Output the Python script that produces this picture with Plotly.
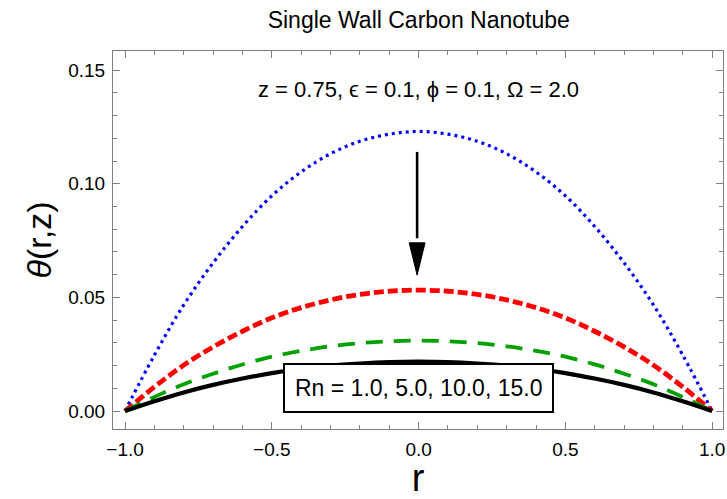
import plotly.graph_objects as go

# ---- data ----
r_vals = [-1.0, -0.9, -0.8, -0.7, -0.6, -0.5, -0.4, -0.3, -0.2, -0.1, 0.0,
          0.1, 0.2, 0.3, 0.4, 0.5, 0.6, 0.7, 0.8, 0.9, 1.0]
theta_rn1 = [0, 0.0246, 0.0467, 0.0652, 0.0812, 0.0947, 0.1052, 0.1132, 0.1187, 0.1218, 0.1230,
             0.1218, 0.1187, 0.1132, 0.1052, 0.0947, 0.0812, 0.0652, 0.0467, 0.0246, 0]
theta_rn5 = [0, 0.0106, 0.0202, 0.0282, 0.0351, 0.0410, 0.0455, 0.0489, 0.0513, 0.0527, 0.0532,
             0.0527, 0.0513, 0.0489, 0.0455, 0.0410, 0.0351, 0.0282, 0.0202, 0.0106, 0]
theta_rn10 = [0, 0.0062, 0.0118, 0.0164, 0.0205, 0.0239, 0.0265, 0.0285, 0.0299, 0.0307, 0.0310,
              0.0307, 0.0299, 0.0285, 0.0265, 0.0239, 0.0205, 0.0164, 0.0118, 0.0062, 0]
theta_rn15 = [0, 0.0043, 0.0082, 0.0115, 0.0143, 0.0167, 0.0186, 0.0200, 0.0209, 0.0215, 0.0217,
              0.0215, 0.0209, 0.0200, 0.0186, 0.0167, 0.0143, 0.0115, 0.0082, 0.0043, 0]

x_ticks = [-1.0, -0.5, 0.0, 0.5, 1.0]
x_tick_labels = ["\u22121.0", "\u22120.5", "0.0", "0.5", "1.0"]
y_ticks = [0.0, 0.05, 0.10, 0.15]
y_tick_labels = ["0.00", "0.05", "0.10", "0.15"]

title_text = "Single Wall Carbon Nanotube"
param_text = "z = 0.75, \u03f5 = 0.1, \u03d5 = 0.1, \u03a9 = 2.0"
legend_text = "Rn = 1.0, 5.0, 10.0, 15.0"

arrow_x = -0.005
arrow_tail_y = 0.114
arrow_neck_y = 0.074
arrow_tip_y = 0.0598
arrow_half_w = 0.027

FONT = "Liberation Sans, Arial, sans-serif"

fig = go.Figure()
fig.add_trace(go.Scatter(x=r_vals, y=theta_rn1, mode="lines", line_shape="spline",
                         line=dict(color="#0000ff", width=3.2, dash="3px,4px"), showlegend=False))
fig.add_trace(go.Scatter(x=r_vals, y=theta_rn5, mode="lines", line_shape="spline",
                         line=dict(color="#ff0000", width=4.8, dash="10px,4px"), showlegend=False))
fig.add_trace(go.Scatter(x=r_vals, y=theta_rn10, mode="lines", line_shape="spline",
                         line=dict(color="#00a000", width=3.8, dash="17px,11px"), showlegend=False))
fig.add_trace(go.Scatter(x=r_vals, y=theta_rn15, mode="lines", line_shape="spline",
                         line=dict(color="#000000", width=4.2), showlegend=False))

# arrow (shaft + head)
fig.add_trace(go.Scatter(x=[arrow_x, arrow_x], y=[arrow_tail_y, arrow_neck_y + 0.002], mode="lines",
                         line=dict(color="black", width=2.6), showlegend=False, hoverinfo="skip"))
fig.add_trace(go.Scatter(x=[arrow_x - arrow_half_w, arrow_x + arrow_half_w, arrow_x, arrow_x - arrow_half_w],
                         y=[arrow_neck_y, arrow_neck_y, arrow_tip_y, arrow_neck_y],
                         mode="lines", fill="toself", fillcolor="black",
                         line=dict(color="black", width=1), showlegend=False, hoverinfo="skip"))

fig.add_annotation(x=0.0, y=0.1415, xref="x", yref="y", text=param_text, showarrow=False,
                   font=dict(family=FONT, size=22, color="black"))
fig.add_annotation(x=0.0, y=0.0101, xref="x", yref="y", text=legend_text, showarrow=False,
                   font=dict(family=FONT, size=23, color="black"),
                   bgcolor="white", bordercolor="black", borderwidth=2, borderpad=10)

axis_common = dict(showline=True, linecolor="#7f7f7f", linewidth=1, mirror="allticks",
                   ticks="inside", tickcolor="#7f7f7f", ticklen=7, tickwidth=1,
                   showgrid=False, zeroline=False, ticklabeloverflow="allow",
                   tickfont=dict(family=FONT, size=19, color="black"))

fig.update_xaxes(range=[-1.041, 1.037], tickvals=x_ticks, ticktext=x_tick_labels,
                 ticklabelstandoff=3,
                 minor=dict(ticks="inside", ticklen=4, tickcolor="#7f7f7f", dtick=0.1, tick0=0, showgrid=False),
                 title=dict(text="r", font=dict(family=FONT, size=38, color="black"), standoff=5),
                 **axis_common)
fig.update_yaxes(range=[-0.0079, 0.1584], tickvals=y_ticks, ticktext=y_tick_labels,
                 ticklabelstandoff=3,
                 minor=dict(ticks="inside", ticklen=4, tickcolor="#7f7f7f", dtick=0.01, tick0=0, showgrid=False),
                 title=dict(text="<i>\u03b8</i>(r,z)", font=dict(family=FONT, size=34, color="black"), standoff=6),
                 **axis_common)

fig.update_layout(
    width=727, height=499,
    margin=dict(l=113, r=2, t=51, b=70),
    plot_bgcolor="white", paper_bgcolor="white",
    title=dict(text=title_text, x=0.576, xanchor="center", y=0.96, yanchor="middle",
               font=dict(family=FONT, size=23, color="black")),
)

fig.write_html("out.html")
